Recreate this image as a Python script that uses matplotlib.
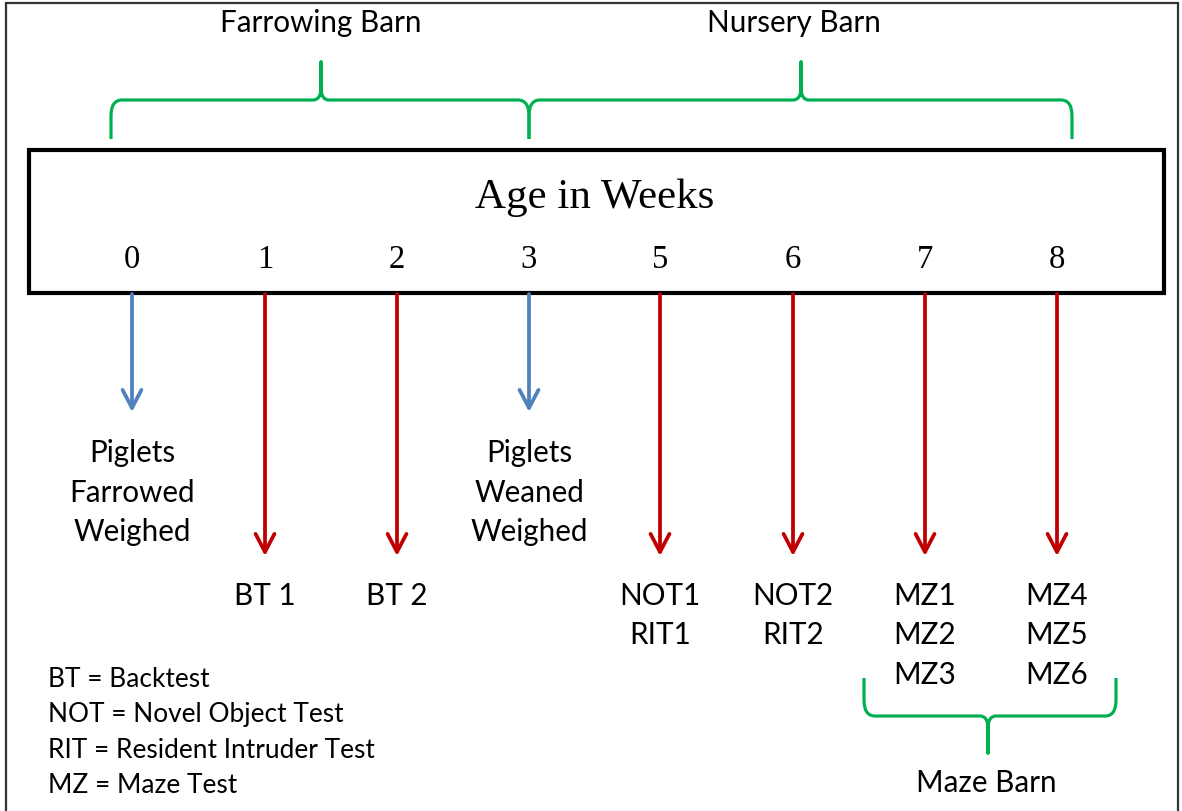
"""Timeline of piglet tests by age in weeks (diagram recreated in pixel space)."""
import matplotlib
matplotlib.use("Agg")
import matplotlib.pyplot as plt
from matplotlib.path import Path
from matplotlib.patches import PathPatch, Rectangle

# --- data -------------------------------------------------------------------
weeks = ["0", "1", "2", "3", "5", "6", "7", "8"]
week_x = [132, 265, 397, 529, 660, 793, 925, 1057]
event_kind = ["weigh", "test", "test", "weigh", "test", "test", "test", "test"]
event_labels = [
    ["Piglets", "Farrowed", "Weighed"],
    ["BT 1"],
    ["BT 2"],
    ["Piglets", "Weaned", "Weighed"],
    ["NOT1", "RIT1"],
    ["NOT2", "RIT2"],
    ["MZ1", "MZ2", "MZ3"],
    ["MZ4", "MZ5", "MZ6"],
]
legend_lines = ["BT = Backtest", "NOT = Novel Object Test",
                "RIT = Resident Intruder Test", "MZ = Maze Test"]
barns = ["Farrowing Barn", "Nursery Barn", "Maze Barn"]

# --- styles -----------------------------------------------------------------
GREEN = "#00B050"
BLUE = "#4F81BD"
RED = "#C00000"
SANS = ["Lato", "DejaVu Sans"]
SERIF = ["Liberation Serif", "DejaVu Serif"]

W, H = 1182, 811
fig = plt.figure(figsize=(W / 100, H / 100), dpi=100)
ax = fig.add_axes([0, 0, 1, 1])
ax.set_xlim(0, W)
ax.set_ylim(H, 0)
ax.axis("off")

# outer frame (top, left, right only)
ax.plot([6, 6, 1178, 1178], [H, 3, 3, H], color="#333333", lw=1.6,
        solid_joinstyle="miter")

# main box
ax.add_patch(Rectangle((29, 150), 1135, 143, fill=False, ec="black", lw=3.0,
                       joinstyle="miter"))
ax.text(595, 208, "Age in Weeks", family=SERIF, fontsize=31,
        ha="center", va="baseline")
for x, w in zip(week_x, weeks):
    ax.text(x, 268, w, family=SERIF, fontsize=23.5, ha="center", va="baseline")


def brace(x0, x1, xm, y_end, y_bar, y_tip, rx=11, ry=16, tr=8, tt=12):
    s = 1 if y_end > y_bar else -1  # direction from bar to ends
    v = [(x0, y_end), (x0, y_bar + s * ry), (x0, y_bar), (x0 + rx, y_bar),
         (xm - tr, y_bar), (xm, y_bar), (xm, y_bar - s * tt), (xm, y_tip),
         (xm, y_bar - s * tt), (xm, y_bar), (xm + tr, y_bar),
         (x1 - rx, y_bar), (x1, y_bar), (x1, y_bar + s * ry), (x1, y_end)]
    c = [Path.MOVETO, Path.LINETO, Path.CURVE3, Path.CURVE3,
         Path.LINETO, Path.CURVE3, Path.CURVE3, Path.LINETO,
         Path.LINETO, Path.CURVE3, Path.CURVE3,
         Path.LINETO, Path.CURVE3, Path.CURVE3, Path.LINETO]
    ax.add_patch(PathPatch(Path(v, c), fill=False, ec=GREEN, lw=2.3,
                           capstyle="butt", joinstyle="round"))


# barn braces
brace(111, 529, 321, 139, 100, 62)
brace(529, 1072, 801, 139, 100, 62)
brace(864, 1116, 988, 678, 716, 753)
ax.text(321, 32, barns[0], family=SANS, fontsize=21.3, ha="center", va="baseline")
ax.text(794, 32, barns[1], family=SANS, fontsize=21.3, ha="center", va="baseline")
ax.text(986, 792, barns[2], family=SANS, fontsize=21.3, ha="center", va="baseline")

# arrows and labels
for x, kind, lines in zip(week_x, event_kind, event_labels):
    if kind == "weigh":
        col, y_end, y_text = BLUE, 412, 462
    else:
        col, y_end, y_text = RED, 556, 605
    ax.annotate("", xy=(x, y_end), xytext=(x, 294),
                arrowprops=dict(arrowstyle="->, head_length=0.65, head_width=0.34",
                                color=col, lw=2.7, mutation_scale=20,
                                shrinkA=0, shrinkB=0))
    for i, t in enumerate(lines):
        ax.text(x, y_text + 39.5 * i, t, family=SANS, fontsize=21.3,
                ha="center", va="baseline")

# abbreviations
for i, t in enumerate(legend_lines):
    ax.text(48, 687 + 35.3 * i, t, family=SANS, fontsize=18.9,
            ha="left", va="baseline")

fig.savefig("out.png", dpi=100, facecolor="white")
